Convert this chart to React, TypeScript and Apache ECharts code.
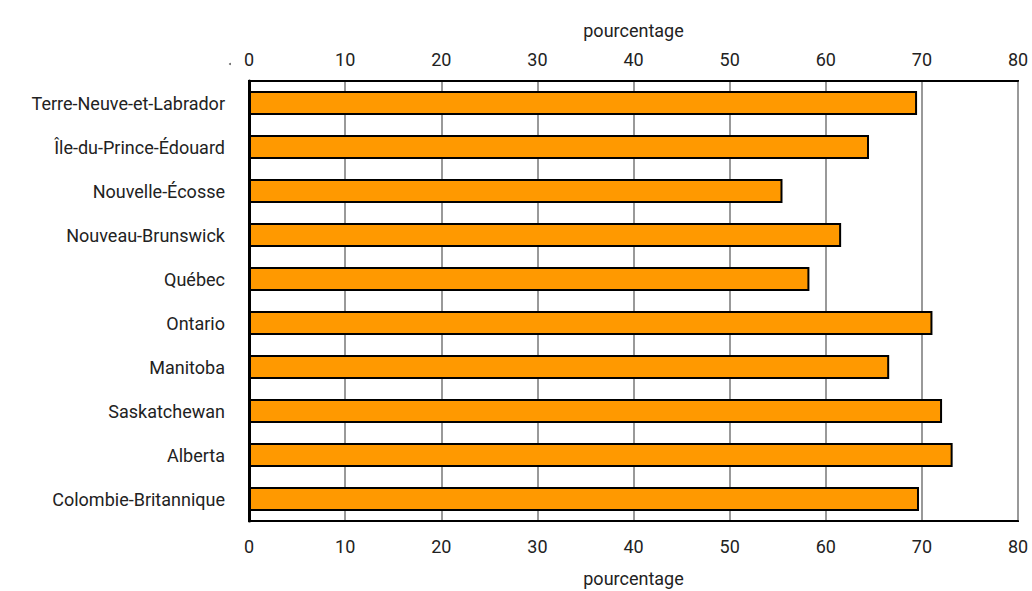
import React, { useEffect, useRef } from "react";
import * as echarts from "echarts";

const provinces = [
  "Terre-Neuve-et-Labrador",
  "Île-du-Prince-Édouard",
  "Nouvelle-Écosse",
  "Nouveau-Brunswick",
  "Québec",
  "Ontario",
  "Manitoba",
  "Saskatchewan",
  "Alberta",
  "Colombie-Britannique",
];
const values = [69.5, 64.5, 55.5, 61.6, 58.3, 71.1, 66.6, 72.1, 73.2, 69.7];
const axisName = "pourcentage";

const FONT = "Roboto, 'Liberation Sans', sans-serif";
const TXT = "#222222";

export default function App() {
  const ref = useRef<HTMLDivElement>(null);
  useEffect(() => {
    if (!ref.current) return;
    const chart = echarts.init(ref.current, undefined, { renderer: "svg" });
    const valueAxisBase = {
      type: "value" as const,
      min: 0,
      max: 80,
      interval: 10,
      name: axisName,
      nameLocation: "middle" as const,
      nameTextStyle: { fontFamily: FONT, fontSize: 18, color: TXT },
      axisTick: { show: false },
      axisLabel: { fontFamily: FONT, fontSize: 18, color: TXT },
    };
    chart.setOption({
      animation: false,
      grid: {
        left: 249,
        right: 14,
        top: 81,
        bottom: 70,
        outerBoundsMode: "none",
        containLabel: false,
        show: true,
        borderColor: "#000",
        borderWidth: 2,
        backgroundColor: "transparent",
      },
      xAxis: [
        {
          ...valueAxisBase,
          position: "bottom",
          nameGap: 48,
          axisLabel: { ...valueAxisBase.axisLabel, margin: 16 },
          axisLine: { show: true, lineStyle: { color: "#000", width: 2 } },
          splitLine: { show: true, lineStyle: { color: "#999", width: 2 } },
        },
        {
          ...valueAxisBase,
          position: "top",
          nameGap: 42,
          axisLabel: { ...valueAxisBase.axisLabel, margin: 13 },
          axisLine: { show: true, lineStyle: { color: "#000", width: 2 } },
          splitLine: { show: false },
        },
      ],
      yAxis: {
        type: "category",
        data: provinces,
        inverse: true,
        axisTick: { show: false },
        axisLine: { show: true, lineStyle: { color: "#000", width: 3 } },
        axisLabel: { fontFamily: FONT, fontSize: 18, color: TXT, margin: 24 },
        splitLine: { show: false },
      },
      series: [
        {
          type: "bar",
          xAxisIndex: 0,
          data: values,
          barWidth: 24,
          itemStyle: { color: "#FF9900", borderColor: "#000", borderWidth: 2 },
        },
      ],
      graphic: [
        { type: "circle", shape: { cx: 230, cy: 64, r: 1 }, style: { fill: "#666" } },
      ],
    });
    return () => chart.dispose();
  }, []);
  return (
    <div
      ref={ref}
      style={{ position: "fixed", left: 0, top: 0, width: 1032, height: 591, background: "#fff" }}
    />
  );
}
